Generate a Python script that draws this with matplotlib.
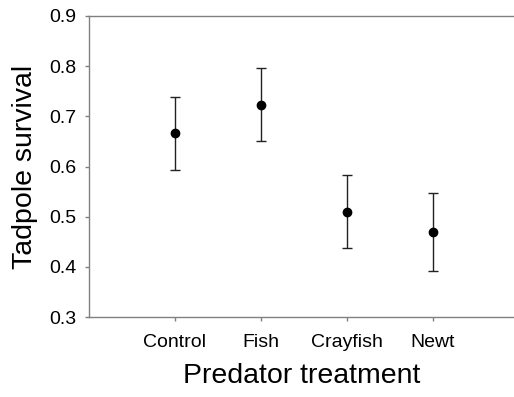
import matplotlib
matplotlib.use('Agg')
import matplotlib.pyplot as plt

treatments = ['Control', 'Fish', 'Crayfish', 'Newt']
survival = [0.666, 0.723, 0.510, 0.470]
upper = [0.738, 0.796, 0.584, 0.548]
lower = [0.593, 0.651, 0.437, 0.391]

err_low = [m - l for m, l in zip(survival, lower)]
err_high = [u - m for m, u in zip(survival, upper)]

plt.rcParams['font.family'] = ['Liberation Sans', 'DejaVu Sans']

fig = plt.figure(figsize=(5.14, 3.97), dpi=100)
ax = fig.add_axes([0.173, 0.2015, 0.827, 0.7582])

x = range(1, len(treatments) + 1)
ax.errorbar(x, survival, yerr=[err_low, err_high], fmt='o', color='black',
            ecolor='#222222', elinewidth=1, capsize=3.6, capthick=1, markersize=6)

ax.set_xlim(0, 4.94)
ax.set_ylim(0.3, 0.9)
ax.set_yticks([0.3, 0.4, 0.5, 0.6, 0.7, 0.8, 0.9])
ax.set_yticklabels(['0.3', '0.4', '0.5', '0.6', '0.7', '0.8', '0.9'])
ax.set_xticks(list(x))
ax.set_xticklabels(treatments)

for side in ['left', 'bottom', 'top']:
    ax.spines[side].set_color('#808080')
    ax.spines[side].set_linewidth(1)
ax.spines['right'].set_visible(False)
ax.tick_params(axis='both', colors='#808080', labelcolor='black', labelsize=14, length=3, width=1)
ax.tick_params(axis='y', pad=6)
ax.tick_params(axis='x', pad=9)

ax.set_xlabel('Predator treatment', fontsize=20.5, labelpad=9)
ax.set_ylabel('Tadpole survival', fontsize=20.5, labelpad=8)

fig.savefig('out.png', dpi=100)
